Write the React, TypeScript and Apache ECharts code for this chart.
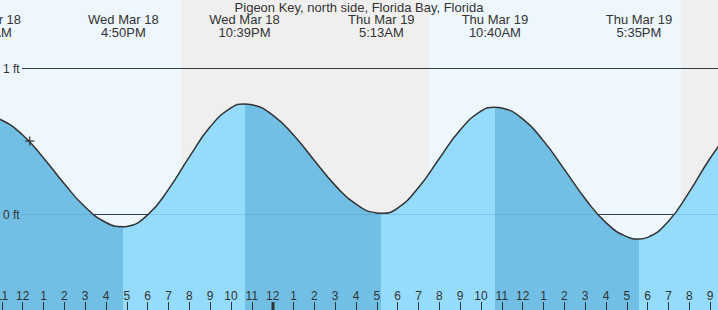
import React, { useEffect, useRef } from "react";
import * as echarts from "echarts";

// Hours relative to midnight of Thu Mar 19 (negative = Wed Mar 18)
const hours = [-14, -13.77, -13, -12, -11, -10, -9, -8, -7.167, -7, -6, -5, -4, -3, -2, -1.35, -1, 0, 1, 2, 3, 4, 5, 5.217, 6, 7, 8, 9, 10, 10.667, 11, 12, 13, 14, 15, 16, 17, 17.583, 18, 19, 20, 21, 22];
const heightsFt = [0.666, 0.667, 0.642, 0.541, 0.384, 0.207, 0.048, -0.058, -0.087, -0.085, -0.006, 0.169, 0.391, 0.597, 0.727, 0.753, 0.748, 0.678, 0.541, 0.367, 0.196, 0.067, 0.007, 0.005, 0.041, 0.181, 0.38, 0.576, 0.704, 0.731, 0.726, 0.651, 0.501, 0.306, 0.105, -0.059, -0.155, -0.171, -0.16, -0.049, 0.152, 0.382, 0.575];

const tideTimes = [-13.77, -7.167, -1.35, 5.217, 10.667, 17.583];
const tideKinds = ["H", "L", "H", "L", "H", "L"];
const tideDays = ["Wed Mar 18", "Wed Mar 18", "Wed Mar 18", "Thu Mar 19", "Thu Mar 19", "Thu Mar 19"];
const tideClock = ["10:14AM", "4:50PM", "10:39PM", "5:13AM", "10:40AM", "5:35PM"];

const nightBands = [
  [-4.4, 7.5],
  [19.61, 22],
];

const nowTime = -11.66;
const nowHeight = 0.5;
const refLevels = [1, 0];
const refLabels = ["1 ft", "0 ft"];

const TITLE = "Pigeon Key, north side, Florida Bay, Florida";

const DAY_BG = "#eef6fe";
const NIGHT_BG = "#efefef";
const FALL_FILL = "#71bfe4";
const RISE_FILL = "#95dbfb";
const INK = "#333333";
const FONT = '"Liberation Sans", Arial, sans-serif';

export default function App() {
  const ref = useRef<HTMLDivElement>(null);

  useEffect(() => {
    if (!ref.current) return;
    const chart = echarts.init(ref.current, undefined, { renderer: "svg" });

    const pieces: any[] = [];
    pieces.push({ lt: tideTimes[0], color: tideKinds[0] === "H" ? RISE_FILL : FALL_FILL });
    for (let i = 0; i < tideTimes.length; i++) {
      const color = tideKinds[i] === "H" ? FALL_FILL : RISE_FILL;
      if (i < tideTimes.length - 1) pieces.push({ gte: tideTimes[i], lt: tideTimes[i + 1], color });
      else pieces.push({ gte: tideTimes[i], color });
    }

    const tideData = hours.map((h, i) => [h, heightsFt[i]]);

    chart.setOption({
      animation: false,
      backgroundColor: DAY_BG,
      grid: { left: 0, right: 0, top: 0, bottom: 0, containLabel: false, outerBoundsMode: "none" },
      xAxis: {
        type: "value",
        min: -14,
        max: 22,
        interval: 1,
        z: 10,
        axisLine: { show: false, onZero: false },
        axisTick: { show: true, inside: true, length: 8, lineStyle: { color: INK, width: 1 } },
        axisLabel: {
          inside: true,
          margin: 8,
          color: INK,
          fontSize: 12,
          fontFamily: FONT,
          hideOverlap: false,
          formatter: (v: number) => {
            const h = ((Math.round(v) % 12) + 12) % 12;
            return String(h === 0 ? 12 : h);
          },
        },
        splitLine: { show: false },
      },
      yAxis: {
        type: "value",
        min: -0.6575,
        max: 1.4658,
        show: false,
        splitLine: { show: false },
      },
      visualMap: {
        show: false,
        type: "piecewise",
        dimension: 0,
        seriesIndex: 1,
        pieces,
      },
      series: [
        {
          type: "line",
          data: [[-14, 0]],
          symbol: "none",
          lineStyle: { opacity: 0 },
          z: 0,
          silent: true,
          markArea: {
            silent: true,
            itemStyle: { color: NIGHT_BG },
            data: nightBands.map(([a, b]) => [{ xAxis: a }, { xAxis: b }]),
          },
        },
        {
          type: "line",
          data: tideData,
          smooth: true,
          symbol: "none",
          lineStyle: { width: 0 },
          areaStyle: { opacity: 1, origin: "start" },
          z: 2,
          silent: true,
        },
        {
          type: "line",
          data: tideData,
          smooth: true,
          symbol: "none",
          lineStyle: { color: INK, width: 1.5 },
          z: 3,
          silent: true,
        },
      ],
    });

    const px = (t: number, v: number) => chart.convertToPixel({ gridIndex: 0 }, [t, v]) as number[];
    const W = 750;
    const graphics: any[] = [];

    refLevels.forEach((lv, i) => {
      const y = Math.round(px(0, lv)[1]) + 0.5;
      graphics.push({ type: "line", z: 1, shape: { x1: 41, y1: y, x2: W, y2: y }, style: { stroke: INK, lineWidth: 1 } });
      graphics.push({ type: "line", z: 5, shape: { x1: 41, y1: y, x2: W, y2: y }, style: { stroke: "rgba(30,110,170,0.18)", lineWidth: 1 } });
      graphics.push({
        type: "text",
        z: 5,
        x: 22,
        y: y,
        style: { text: refLabels[i], fill: INK, font: `12px ${FONT}`, align: "left", verticalAlign: "middle" },
      });
    });

    const mid = px(0, 0)[0];
    graphics.push({ type: "rect", z: 12, shape: { x: Math.round(mid) - 1.5, y: 302, width: 3, height: 8 }, style: { fill: INK } });

    const np = px(nowTime, nowHeight);
    graphics.push({ type: "line", z: 12, shape: { x1: np[0] - 4.5, y1: np[1], x2: np[0] + 4.5, y2: np[1] }, style: { stroke: INK, lineWidth: 1.2 } });
    graphics.push({ type: "line", z: 12, shape: { x1: np[0], y1: np[1] - 4.5, x2: np[0], y2: np[1] + 4.5 }, style: { stroke: INK, lineWidth: 1.2 } });

    graphics.push({
      type: "text",
      z: 12,
      x: 378,
      y: 7.5,
      style: { text: TITLE, fill: INK, font: `13px ${FONT}`, align: "center", verticalAlign: "middle" },
    });

    tideTimes.forEach((t, i) => {
      const x = px(t, 0)[0];
      graphics.push({
        type: "text",
        z: 12,
        x,
        y: 26,
        style: {
          text: `${tideDays[i]}\n${tideClock[i]}`,
          fill: INK,
          font: `13px ${FONT}`,
          lineHeight: 13,
          align: "center",
          verticalAlign: "middle",
        },
      });
    });

    chart.setOption({ graphic: graphics });

    return () => chart.dispose();
  }, []);

  return (
    <div style={{ position: "fixed", left: 0, top: 0, width: 718, height: 310, overflow: "hidden", background: DAY_BG }}>
      <div ref={ref} style={{ position: "absolute", left: -19, top: 0, width: 750, height: 310 }} />
    </div>
  );
}
